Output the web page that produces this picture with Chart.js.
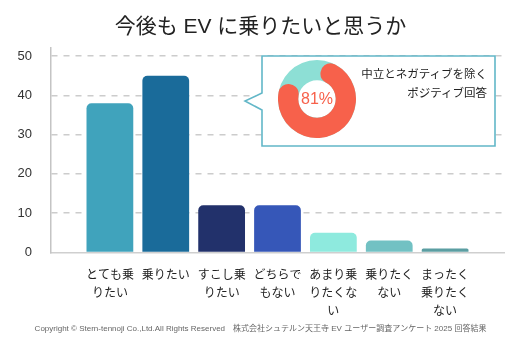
<!DOCTYPE html>
<html><head><meta charset="utf-8">
<script src="https://cdn.jsdelivr.net/npm/chart.js@4/dist/chart.umd.min.js"></script>
<style>
html,body{margin:0;padding:0;background:#fff;}
#wrap{position:relative;width:520px;height:347px;overflow:hidden;}
#main{position:absolute;left:0;top:0;}
#callout{position:absolute;left:0;top:0;}
.donut{position:absolute;left:278px;top:60px;}
#pct{position:absolute;left:277px;top:89px;width:80px;text-align:center;font:16px "Liberation Sans",Arial,sans-serif;color:#f7614b;line-height:20px;}
#note{position:absolute;right:33px;top:64px;text-align:right;font:11.5px "Noto Sans CJK JP",sans-serif;color:#222;line-height:19px;white-space:nowrap;}
</style>
</head><body>
<div id="wrap">
<canvas id="main" width="520" height="347"></canvas>
<svg id="callout" width="520" height="347"><path d="M262,56 H495 V146 H262 V110 L245,101 L262,93 Z" fill="#fff" stroke="#62b7c8" stroke-width="1.6"/></svg>
<canvas id="ring" class="donut" width="78" height="78"></canvas>
<canvas id="arc" class="donut" width="78" height="78"></canvas>
<div id="pct"></div>
<div id="note">中立とネガティブを除く<br>ポジティブ回答</div>
</div>
<script>
const categories = [
  ['とても乗','りたい'],
  ['乗りたい'],
  ['すこし乗','りたい'],
  ['どちらで','もない'],
  ['あまり乗','りたくな','い'],
  ['乗りたく','ない'],
  ['まったく','乗りたく','ない']
];
const values = [38, 45, 12, 12, 5, 3, 1];
const barColors = ['#40a3bc','#1a6b9a','#22316b','#3657b8','#8eeade','#72c1c3','#5b9ea2'];
const yTickValues = [0, 10, 20, 30, 40, 50];
const positiveShare = [81, 19];
const titleText = '今後も EV に乗りたいと思うか';
const footerText = 'Copyright © Stern-tennoji Co.,Ltd.All Rights Reserved　株式会社シュテルン天王寺 EV ユーザー調査アンケート 2025 回答結果';

Chart.defaults.font.family = '"Liberation Sans", "Noto Sans CJK JP", sans-serif';

new Chart(document.getElementById('main'), {
  type: 'bar',
  data: {
    datasets: [{
      data: categories.map((c, i) => ({x: i, y: values[i]})),
      backgroundColor: barColors,
      borderRadius: 5,
      borderSkipped: 'start',
      categoryPercentage: 1,
      barPercentage: 0.837
    }]
  },
  options: {
    responsive: false,
    devicePixelRatio: 1,
    animation: false,
    layout: {padding: {left: 17, right: 16, top: 0, bottom: 13}},
    plugins: {
      legend: {display: false},
      tooltip: {enabled: false},
      title: {display: true, text: titleText, color: '#222',
        font: {size: 21, weight: 'normal', family: '"Liberation Sans", "Noto Sans CJK JP", sans-serif'},
        padding: {top: 15, bottom: 8}},
      subtitle: {display: true, position: 'bottom', text: footerText, color: '#666',
        font: {size: 8, weight: 'normal'}, padding: {top: 6, bottom: 0}}
    },
    scales: {
      x: {
        type: 'linear',
        offset: false,
        min: -1.054, max: 7.054,
        afterBuildTicks: s => { s.ticks = categories.map((c, i) => ({value: i})); },
        afterFit: s => { s.paddingLeft = 0; s.paddingRight = 0; s.height = 66; },
        grid: {display: false, drawTicks: false, offset: false},
        border: {display: true, color: '#cfcfcf', width: 1.5},
        ticks: {
          autoSkip: false, maxRotation: 0, minRotation: 0, padding: 13,
          color: '#222',
          font: {size: 12, family: '"Noto Sans CJK JP", sans-serif', lineHeight: 1.5},
          callback: v => categories[v] || ''
        }
      },
      y: {
        min: 0, max: 52,
        afterBuildTicks: s => { s.ticks = yTickValues.map(v => ({value: v})); },
        afterFit: s => { s.width = 34; },
        grid: {color: c => (c.tick && c.tick.value === 0) ? 'rgba(0,0,0,0)' : '#cccccc', lineWidth: 1.5, drawTicks: false},
        border: {display: true, color: '#c4c4c4', width: 1.5, dash: [6, 6]},
        ticks: {padding: 19, color: '#333', font: {size: 13}}
      }
    }
  }
});

const donutOpts = {
  responsive: false, devicePixelRatio: 1, animation: false, cutout: '48%',
  layout: {padding: 0},
  plugins: {legend: {display: false}, tooltip: {enabled: false}}
};
new Chart(document.getElementById('ring'), {
  type: 'doughnut',
  data: {datasets: [{data: [100], backgroundColor: ['#8ddfd5'], borderWidth: 0}]},
  options: donutOpts
});
new Chart(document.getElementById('arc'), {
  type: 'doughnut',
  data: {datasets: [{data: positiveShare, backgroundColor: ['#f7614b', 'rgba(0,0,0,0)'], borderWidth: 0,
    borderRadius: [10, 0]}]},
  options: Object.assign({}, donutOpts, {rotation: 8})
});
document.getElementById('pct').textContent = positiveShare[0] + '%';
</script>
</body></html>
